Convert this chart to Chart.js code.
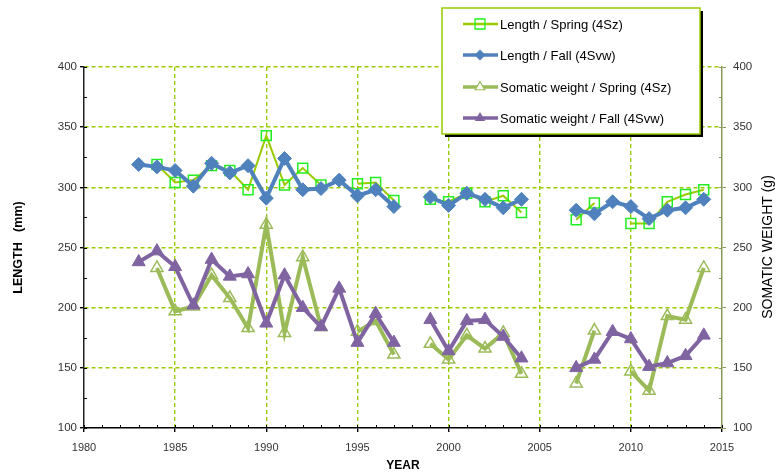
<!DOCTYPE html>
<html>
<head>
<meta charset="utf-8">
<script src="https://cdn.jsdelivr.net/npm/chart.js@4.4.1/dist/chart.umd.min.js"></script>
<style>
  html, body { margin: 0; padding: 0; background: #fff; }
  #wrap { width: 777px; height: 474px; }
</style>
</head>
<body>
<div id="wrap"><canvas id="chart" width="777" height="474"></canvas></div>
<script>
// survey years and values (null = no survey / gap)
var years = [1983, 1984, 1985, 1986, 1987, 1988, 1989, 1990, 1991, 1992,
             1993, 1994, 1995, 1996, 1997, 1998, 1999, 2000, 2001, 2002,
             2003, 2004, 2005, 2006, 2007, 2008, 2009, 2010, 2011, 2012,
             2013, 2014];
var lengthSpring = [null, 319, 304, 306, 318, 314, 298, 343, 302, 316,
                    302, null, 303, 304, 289, null, 290, 288, 295, 288,
                    293, 279, null, null, 273, 287, null, 270, 270, 288,
                    294, 298];
var lengthFall = [319, 317, 314, 301, 320, 312, 318, 291, 324, 298,
                  299, 306, 293, 298, 284, null, 292, 285, 295, 290,
                  283, 290, null, null, 281, 278, 288, 284, 274, 281,
                  283, 290];
var weightSpring = [null, 233, 197, 201, 227, 208, 183, 269, 179, 242,
                    184, null, 180, 189, 161, null, 170, 157, 177, 166,
                    179, 145, null, null, 137, 181, null, 147, 131, 193,
                    190, 233];
var weightFall = [238, 247, 234, 202, 240, 226, 228, 187, 227, 200,
                  184, 216, 171, 195, 171, null, 190, 164, 189, 190,
                  176, 158, null, null, 150, 157, 180, 174, 151, 154,
                  160, 177];

var yTicks = [100, 150, 200, 250, 300, 350, 400];
var xTicks = [1980, 1985, 1990, 1995, 2000, 2005, 2010, 2015];

var gridGreen = "#99cc00";
var FONT = "'Liberation Sans', Arial, sans-serif";

function pts(arr) {
    return years.map(function (yr, i) { return { x: yr, y: arr[i] }; });
}

// small marker painter for the custom legend
function marker(ctx, style, x, y, r, fill, stroke, lw) {
    ctx.beginPath();
    if (style == "rect") {
        ctx.rect(x - r, y - r, 2 * r, 2 * r);
    } else if (style == "diamond") {
        ctx.moveTo(x, y - r); ctx.lineTo(x + r, y); ctx.lineTo(x, y + r); ctx.lineTo(x - r, y);
        ctx.closePath();
    } else {
        ctx.moveTo(x, y - r); ctx.lineTo(x + r * 0.87, y + r * 0.5); ctx.lineTo(x - r * 0.87, y + r * 0.5);
        ctx.closePath();
    }
    if (fill) { ctx.fillStyle = fill; ctx.fill(); }
    if (stroke) { ctx.strokeStyle = stroke; ctx.lineWidth = lw; ctx.stroke(); }
}

var decor = {
    id: "decor",
    afterDraw: function (chart) {
        var ctx = chart.ctx;
        var x = chart.scales.x, y = chart.scales.y;
        var a = chart.chartArea;
        ctx.save();
        // inner tick marks
        ctx.lineWidth = 1;
        ctx.strokeStyle = "#000";
        for (var v = 1980; v <= 2015; v++) {
            var px = Math.round(x.getPixelForValue(v)) + 0.5;
            ctx.beginPath(); ctx.moveTo(px, a.bottom); ctx.lineTo(px, a.bottom - 3); ctx.stroke();
        }
        for (var w = 100; w <= 400; w += 25) {
            var py = Math.round(y.getPixelForValue(w)) + 0.5;
            ctx.strokeStyle = "#000";
            ctx.beginPath(); ctx.moveTo(a.left, py); ctx.lineTo(a.left + 3, py); ctx.stroke();
            ctx.strokeStyle = "#8a9a5b";
            ctx.beginPath(); ctx.moveTo(a.right, py); ctx.lineTo(a.right - 3, py); ctx.stroke();
        }

        // right axis title, reading bottom to top
        ctx.fillStyle = "#000";
        ctx.font = "14px " + FONT;
        ctx.textAlign = "center";
        ctx.textBaseline = "middle";
        ctx.translate(768, 247);
        ctx.rotate(-Math.PI / 2);
        ctx.fillText("SOMATIC WEIGHT (g)", 0, 0);
        ctx.restore();

        // legend box with shadow
        ctx.save();
        ctx.fillStyle = "#000";
        ctx.fillRect(445, 11, 258, 126);
        ctx.fillStyle = "#fff";
        ctx.fillRect(442, 8, 258, 126);
        ctx.strokeStyle = gridGreen;
        ctx.lineWidth = 1.5;
        ctx.strokeRect(442, 8, 258, 126);

        var rows = [24, 55, 87, 118];
        var ds = chart.data.datasets;
        var looks = [
            { style: "rect", r: 5, fill: null, stroke: "#22ee22", lw: 1.3, line: 2.5 },
            { style: "diamond", r: 5.5, fill: "#4f81bd", stroke: null, lw: 0, line: 3.5 },
            { style: "tri", r: 5.5, fill: "#fff", stroke: "#9bbb59", lw: 1.2, line: 3.5 },
            { style: "tri", r: 6, fill: "#8064a2", stroke: null, lw: 0, line: 3.5 }
        ];
        ctx.font = "13px " + FONT;
        ctx.textAlign = "left";
        ctx.textBaseline = "middle";
        for (var i = 0; i < 4; i++) {
            var ry = rows[i];
            ctx.strokeStyle = ds[i].borderColor;
            ctx.lineWidth = looks[i].line;
            ctx.beginPath(); ctx.moveTo(463, ry); ctx.lineTo(498, ry); ctx.stroke();
            marker(ctx, looks[i].style, 480, ry, looks[i].r, looks[i].fill, looks[i].stroke, looks[i].lw);
            ctx.fillStyle = "#000";
            ctx.fillText(ds[i].label, 500, ry + 1);
        }
        ctx.restore();
    }
};

new Chart(document.getElementById("chart"), {
    type: "line",
    data: {
        datasets: [
            {
                label: "Length / Spring (4Sz)",
                data: pts(lengthSpring),
                borderColor: gridGreen,
                borderWidth: 2,
                pointStyle: "rect",
                pointRadius: 7,
                pointBorderColor: "#22ee22",
                pointBackgroundColor: "rgba(0,0,0,0)",
                pointBorderWidth: 1.5,
                yAxisID: "y",
                order: 3
            },
            {
                label: "Length / Fall (4Svw)",
                data: pts(lengthFall),
                borderColor: "#4f81bd",
                borderWidth: 4,
                pointStyle: "rectRot",
                pointRadius: 7,
                pointBorderColor: "#4f81bd",
                pointBackgroundColor: "#4f81bd",
                pointBorderWidth: 1,
                yAxisID: "y",
                order: 2
            },
            {
                label: "Somatic weight / Spring (4Sz)",
                data: pts(weightSpring),
                borderColor: "#9bbb59",
                borderWidth: 4,
                pointStyle: "triangle",
                pointRadius: 7,
                pointBorderColor: "#9bbb59",
                pointBackgroundColor: "rgba(255,255,255,0)",
                pointBorderWidth: 1.5,
                yAxisID: "y2",
                order: 1
            },
            {
                label: "Somatic weight / Fall (4Svw)",
                data: pts(weightFall),
                borderColor: "#8064a2",
                borderWidth: 4,
                pointStyle: "triangle",
                pointRadius: 7.5,
                pointBorderColor: "#8064a2",
                pointBackgroundColor: "#8064a2",
                pointBorderWidth: 1,
                yAxisID: "y2",
                order: 0
            }
        ]
    },
    options: {
        responsive: false,
        animation: false,
        events: [],
        layout: { padding: { top: 67, left: 0, right: 0, bottom: 0 }, autoPadding: false },
        elements: { line: { tension: 0 } },
        plugins: { legend: { display: false }, tooltip: { enabled: false } },
        scales: {
            x: {
                type: "linear",
                min: 1980,
                max: 2015,
                afterFit: function (s) { s.height = 46; },
                afterBuildTicks: function (s) {
                    s.ticks = [];
                    for (var v = 1980; v <= 2015; v++) s.ticks.push({ value: v });
                },
                ticks: {
                    autoSkip: false,
                    maxRotation: 0,
                    padding: 9,
                    color: "#333",
                    font: { family: FONT, size: 11 },
                    callback: function (v) { return xTicks.indexOf(v) >= 0 ? String(v) : ""; }
                },
                grid: {
                    color: function (c) {
                        var v = c.tick && c.tick.value;
                        return (v % 5 === 0 && v > 1980 && v < 2015) ? gridGreen : "rgba(0,0,0,0)";
                    },
                    tickColor: function (c) {
                        return (c.tick && c.tick.value % 5 === 0) ? "#000" : "rgba(0,0,0,0)";
                    },
                    tickLength: 4,
                    lineWidth: 1.4
                },
                border: { color: "#000", width: 1.5, dash: [4, 3] },
                title: {
                    display: true,
                    text: "YEAR",
                    color: "#000",
                    font: { family: FONT, size: 12, weight: "bold" },
                    padding: { top: 0, bottom: 1 }
                }
            },
            y: {
                position: "left",
                min: 100,
                max: 400,
                afterFit: function (s) { s.width = 84; },
                ticks: {
                    stepSize: 25,
                    padding: 3,
                    color: "#333",
                    font: { family: FONT, size: 11.5 },
                    callback: function (v) { return yTicks.indexOf(v) >= 0 ? String(v) : ""; }
                },
                grid: {
                    color: function (c) {
                        var v = c.tick && c.tick.value;
                        return (v % 50 === 0 && v > 100) ? gridGreen : "rgba(0,0,0,0)";
                    },
                    tickColor: function (c) {
                        return (c.tick && c.tick.value % 50 === 0) ? "#000" : "rgba(0,0,0,0)";
                    },
                    tickLength: 4,
                    lineWidth: 1.4
                },
                border: { color: "#222", width: 1.5, dash: [4, 3] },
                title: {
                    display: true,
                    text: "LENGTH   (mm)",
                    color: "#000",
                    font: { family: FONT, size: 12.5, weight: "bold" },
                    padding: { top: 11, bottom: 0 }
                }
            },
            y2: {
                position: "right",
                min: 100,
                max: 400,
                afterFit: function (s) { s.width = 55; },
                ticks: {
                    stepSize: 25,
                    padding: 7,
                    color: "#333",
                    font: { family: FONT, size: 11.5 },
                    callback: function (v) { return yTicks.indexOf(v) >= 0 ? String(v) : ""; }
                },
                grid: {
                    drawOnChartArea: false,
                    tickColor: function (c) {
                        return (c.tick && c.tick.value % 50 === 0) ? "#8a9a5b" : "rgba(0,0,0,0)";
                    },
                    tickLength: 4
                },
                border: { color: "#8a9a5b", width: 1.5 }
            }
        }
    },
    plugins: [decor]
});
</script>
</body>
</html>
